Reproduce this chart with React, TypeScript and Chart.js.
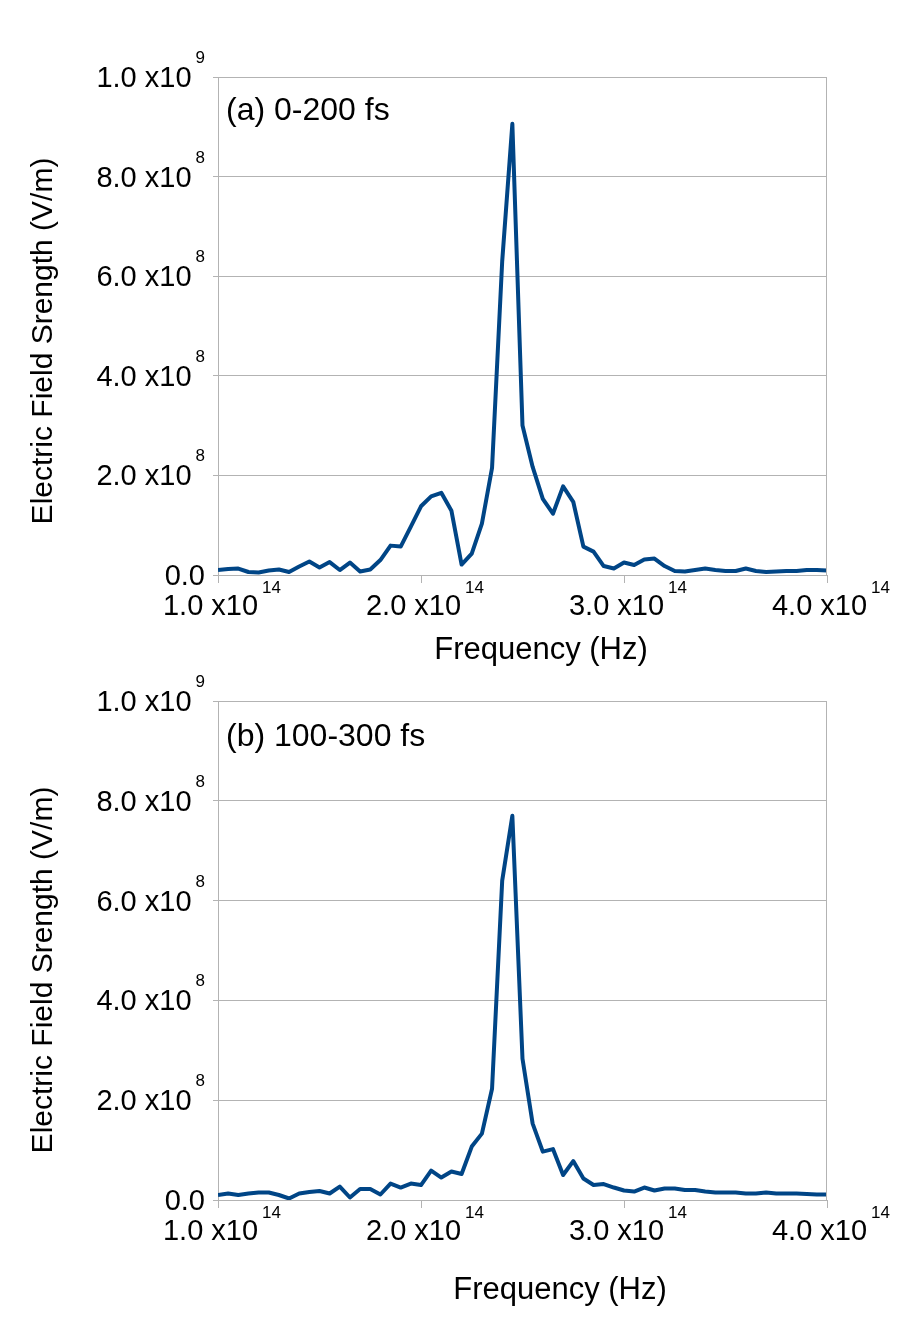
import React, { useEffect, useRef } from 'react';
import Chart from 'chart.js/auto';

// frequency in units of 1e14 Hz
const frequencies = [
	1.0, 1.05, 1.1, 1.15, 1.2, 1.25, 1.3, 1.35, 1.4, 1.45,
	1.5, 1.55, 1.6, 1.65, 1.7, 1.75, 1.8, 1.85, 1.9, 1.95,
	2.0, 2.05, 2.1, 2.15, 2.2, 2.25, 2.3, 2.35, 2.4, 2.45,
	2.5, 2.55, 2.6, 2.65, 2.7, 2.75, 2.8, 2.85, 2.9, 2.95,
	3.0, 3.05, 3.1, 3.15, 3.2, 3.25, 3.3, 3.35, 3.4, 3.45,
	3.5, 3.55, 3.6, 3.65, 3.7, 3.75, 3.8, 3.85, 3.9, 3.95,
	4.0,
];

// electric field strength in units of 1e8 V/m
const field0to200 = [
	0.1, 0.12, 0.13, 0.06, 0.05, 0.09, 0.11, 0.06, 0.17, 0.27,
	0.15, 0.26, 0.1, 0.25, 0.07, 0.11, 0.3, 0.59, 0.57, 0.97,
	1.38, 1.58, 1.65, 1.29, 0.21, 0.43, 1.03, 2.15, 6.3, 9.06,
	3.0, 2.17, 1.53, 1.23, 1.78, 1.47, 0.57, 0.47, 0.18, 0.13,
	0.25, 0.2, 0.31, 0.33, 0.18, 0.08, 0.07, 0.1, 0.13, 0.1,
	0.08, 0.08, 0.13, 0.08, 0.06, 0.07, 0.08, 0.08, 0.1, 0.1,
	0.09,
];

const field100to300 = [
	0.1, 0.13, 0.1, 0.13, 0.15, 0.15, 0.1, 0.03, 0.13, 0.16,
	0.18, 0.13, 0.27, 0.05, 0.22, 0.22, 0.11, 0.33, 0.25, 0.33,
	0.3, 0.59, 0.45, 0.57, 0.52, 1.07, 1.33, 2.23, 6.4, 7.7,
	2.83, 1.53, 0.97, 1.02, 0.5, 0.78, 0.43, 0.3, 0.32, 0.25,
	0.19, 0.17, 0.25, 0.19, 0.23, 0.23, 0.2, 0.2, 0.17, 0.15,
	0.15, 0.15, 0.13, 0.13, 0.15, 0.13, 0.13, 0.13, 0.12, 0.11,
	0.11,
];

const xTicks = [1, 2, 3, 4];
const xTickLabels = ['1.0 x10', '2.0 x10', '3.0 x10', '4.0 x10'];
const xTickExps = ['14', '14', '14', '14'];

const yTicks = [0, 2, 4, 6, 8, 10];
const yTickLabels = ['0.0', '2.0 x10', '4.0 x10', '6.0 x10', '8.0 x10', '1.0 x10'];
const yTickExps = ['', '8', '8', '8', '8', '9'];

const FONT = "'Liberation Sans', Arial, sans-serif";
const GRID = '#b3b3b3';
const LINE = '#004586';
const W = 906;
const TOP_H = 670;
const BOTTOM_H = 654;

interface Props {
	values: number[];
	height: number;
	label: string;
	labelBaseline: number;
	areaTop: number;
	areaBottom: number;
	xTitleX: number;
	xTitleBaseline: number;
	yTitleY: number;
}

const Panel: React.FC<Props> = (p) => {
	const canvasRef = useRef<HTMLCanvasElement | null>(null);
	const chartRef = useRef<Chart | null>(null);

	useEffect(() => {
		const canvas = canvasRef.current;
		if (!canvas) return;
		const ctx = canvas.getContext('2d');
		if (!ctx) return;

		const drawSup = (
			c: CanvasRenderingContext2D,
			main: string,
			exp: string,
			x: number,
			baseline: number,
			supBaseline: number,
			align: 'right' | 'center'
		) => {
			c.font = `29px ${FONT}`;
			const mw = c.measureText(main).width;
			c.font = `17px ${FONT}`;
			const sw = exp ? c.measureText(exp).width + 4 : 0;
			const total = mw + sw;
			const start = align === 'right' ? x - total : x - total / 2;
			c.textAlign = 'left';
			c.textBaseline = 'alphabetic';
			c.font = `29px ${FONT}`;
			c.fillText(main, start, baseline);
			if (exp) {
				c.font = `17px ${FONT}`;
				c.fillText(exp, start + mw + 4, supBaseline);
			}
		};

		const labels = {
			id: 'labels',
			afterDraw(chart: Chart) {
				const c = chart.ctx;
				const { chartArea } = chart;
				const xs = chart.scales.x;
				const ys = chart.scales.y;
				c.save();
				// right side of the plot wall
				c.strokeStyle = GRID;
				c.lineWidth = 1;
				const rx = Math.round(xs.getPixelForValue(4)) - 0.5;
				c.beginPath();
				c.moveTo(rx, chartArea.top);
				c.lineTo(rx, chartArea.bottom);
				c.stroke();

				c.fillStyle = '#000';
				yTicks.forEach((v, i) => {
					const py = ys.getPixelForValue(v);
					drawSup(c, yTickLabels[i], yTickExps[i], 205, py + 10, py - 14, 'right');
				});
				xTicks.forEach((v, i) => {
					const px = xs.getPixelForValue(v);
					const ax = chartArea.bottom;
					drawSup(c, xTickLabels[i], xTickExps[i], px + 4, ax + 40, ax + 18, 'center');
				});

				c.font = `32px ${FONT}`;
				c.textAlign = 'left';
				c.fillText(p.label, 226, p.labelBaseline);

				c.font = `31px ${FONT}`;
				c.textAlign = 'center';
				c.fillText('Frequency (Hz)', p.xTitleX, p.xTitleBaseline);

				c.translate(52, p.yTitleY);
				c.rotate(-Math.PI / 2);
				c.font = `30px ${FONT}`;
				c.fillText('Electric Field Srength (V/m)', 0, 0);
				c.restore();
			},
		};

		if (chartRef.current) {
			chartRef.current.destroy();
		}

		chartRef.current = new Chart(ctx, {
			type: 'line',
			data: {
				datasets: [
					{
						data: frequencies.map((f, i) => ({ x: f, y: p.values[i] })),
						borderColor: LINE,
						borderWidth: 4,
						borderJoinStyle: 'round',
						pointRadius: 0,
						tension: 0,
						fill: false,
					},
				],
			},
			options: {
				animation: false,
				responsive: false,
				events: [],
				layout: { padding: { top: p.areaTop, right: W - 827, bottom: 0, left: 0 } },
				plugins: { legend: { display: false }, tooltip: { enabled: false } },
				scales: {
					x: {
						type: 'linear',
						min: 1,
						max: 4,
						ticks: { display: false, stepSize: 1 },
						grid: { drawOnChartArea: false, color: GRID, tickLength: 8 },
						border: { display: true, color: GRID },
						afterFit: (s: any) => {
							s.height = p.height - p.areaBottom;
						},
					},
					y: {
						min: 0,
						max: 10,
						ticks: { display: false, stepSize: 2 },
						grid: { color: GRID, tickLength: 5 },
						border: { display: true, color: GRID },
						afterFit: (s: any) => {
							s.width = 218;
						},
					},
				},
			},
			plugins: [labels],
		});

		return () => {
			if (chartRef.current) {
				chartRef.current.destroy();
				chartRef.current = null;
			}
		};
	}, [p]);

	return <canvas ref={canvasRef} width={W} height={p.height} style={{ display: 'block' }} />;
};

const App: React.FC = () => {
	return (
		<div style={{ position: 'absolute', left: 0, top: 0, width: W, height: TOP_H + BOTTOM_H, background: '#fff' }}>
			<Panel
				values={field0to200}
				height={TOP_H}
				label="(a) 0-200 fs"
				labelBaseline={120}
				areaTop={77}
				areaBottom={575}
				xTitleX={541}
				xTitleBaseline={659}
				yTitleY={341}
			/>
			<Panel
				values={field100to300}
				height={BOTTOM_H}
				label="(b) 100-300 fs"
				labelBaseline={76}
				areaTop={31}
				areaBottom={530}
				xTitleX={560}
				xTitleBaseline={629}
				yTitleY={300}
			/>
		</div>
	);
};

export default App;
